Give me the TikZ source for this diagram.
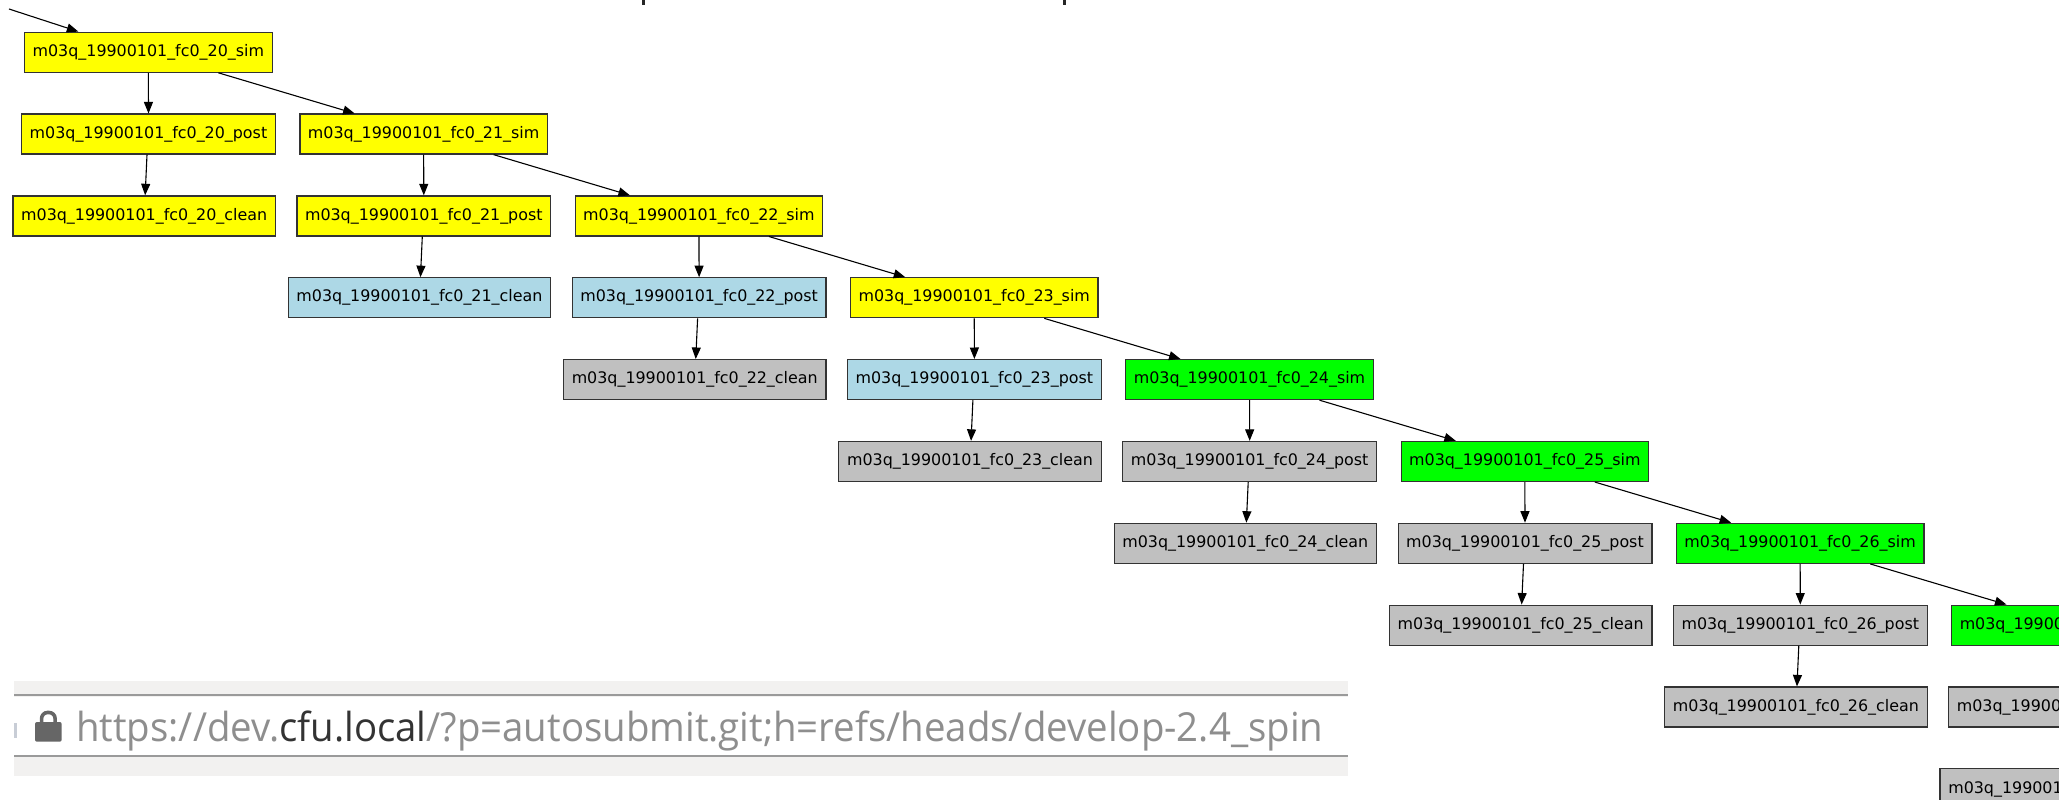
\documentclass[tikz,border=0pt]{standalone}
\usepackage{fontspec}
\setmainfont{DejaVu Sans}
\newfontfamily\urlfont{Open Sans}
\usetikzlibrary{arrows.meta}
\definecolor{cy}{HTML}{FFFF00}
\definecolor{cb}{HTML}{ADD8E6}
\definecolor{cn}{HTML}{00FF00}
\definecolor{cg}{HTML}{C0C0C0}
\definecolor{barbg}{HTML}{F2F1F0}
\definecolor{barline}{HTML}{9A9A9A}
\definecolor{urlgrey}{HTML}{8E8E8E}
\definecolor{urldark}{HTML}{333333}
\definecolor{lockgrey}{HTML}{666666}
\definecolor{tabbar}{HTML}{C8CDD6}
\tikzset{
  box/.style={draw=black!80, line width=1.2pt, minimum height=40pt, inner sep=0pt,
    font=\fontsize{15.9}{18}\selectfont},
  simbox/.style={box, minimum width=247.5pt},
  postbox/.style={box, minimum width=253.8pt},
  cleanbox/.style={box, minimum width=262.5pt},
  arr/.style={-{Triangle[length=11.5pt,width=9pt]}, line width=1.1pt, black},
}
\begin{document}
\begin{tikzpicture}[x=1pt,y=-1pt]
\clip (0,0) rectangle (2059,800);
\fill[white] (0,0) rectangle (2059,800);
% cut-off marks at the very top
\fill[black!85] (642,0) rectangle (644.5,5);
\fill[black!85] (1063,0) rectangle (1065.5,5);
% nodes
\foreach \i/\cs/\cp/\cc in {0/cy/cy/cy,1/cy/cy/cb,2/cy/cb/cg,3/cy/cb/cg,4/cn/cg/cg,5/cn/cg/cg,6/cn/cg/cg,7/cn/cg/cg}{
  \pgfmathsetmacro{\xs}{148.35+275.3*\i}
  \pgfmathsetmacro{\xp}{148.5+275.3*\i}
  \pgfmathsetmacro{\xc}{144.15+275.3*\i}
  \pgfmathsetmacro{\ys}{52.2+81.85*\i}
  \pgfmathsetmacro{\yp}{52.2+81.85*(\i+1)}
  \pgfmathsetmacro{\yc}{52.2+81.85*(\i+2)}
  \pgfmathtruncatemacro{\n}{20+\i}
  \node[simbox, fill=\cs] (s\i) at (\xs,\ys) {m03q\_19900101\_fc0\_\n\_sim};
  \node[postbox, fill=\cp] (p\i) at (\xp,\yp) {m03q\_19900101\_fc0\_\n\_post};
  \node[cleanbox, fill=\cc] (c\i) at (\xc,\yc) {m03q\_19900101\_fc0\_\n\_clean};
}
% edges
\coordinate (in) at (9,9);
\draw[arr] (in) -- ([xshift=-70pt]s0.north);
\foreach \i in {0,...,6}{
  \draw[arr] (s\i.south) -- (p\i.north);
  \draw[arr] ([xshift=-1.5pt]p\i.south) -- ([xshift=1pt]c\i.north);
}
\foreach \i [evaluate=\i as \j using int(\i+1)] in {0,...,6}{
  \draw[arr] ([xshift=70pt]s\i.south) -- ([xshift=-69pt]s\j.north);
}
% address bar
\fill[barbg] (14,681) rectangle (1347.7,776);
\fill[white] (14,697) rectangle (1347.7,755);
\draw[barline, line width=2.2pt] (14,695.2) -- (1347.7,695.2);
\draw[barline, line width=2.2pt] (14,756) -- (1347.7,756);
\fill[tabbar] (14,723) rectangle (16.5,738);
% lock icon
\fill[lockgrey, rounded corners=2pt] (35,722) rectangle (61.7,741.7);
\draw[lockgrey, line width=3.6pt, rounded corners=6pt] (41.6,724) |- (55.1,712.5) -- (55.1,724);
\node[anchor=base west, inner sep=0pt] (url) at (76,741)
  {\resizebox{1247pt}{\height}{\urlfont\fontsize{40}{48}\selectfont\color{urlgrey}https://dev.\textcolor{urldark}{cfu.local}/?p=autosubmit.git;h=refs/heads/develop-2.4\_spin}};
\end{tikzpicture}
\end{document}
